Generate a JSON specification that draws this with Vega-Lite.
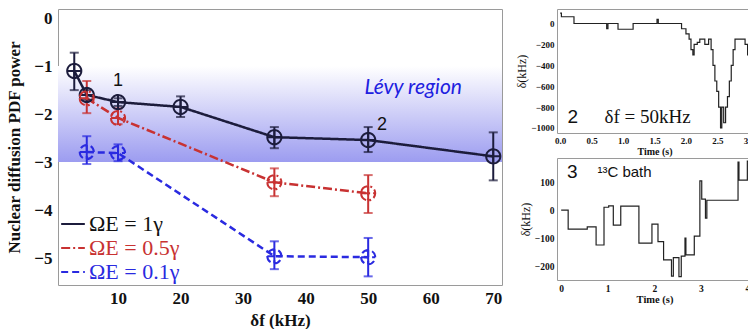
{
  "$schema": "https://vega.github.io/schema/vega-lite/v6.json",
  "padding": {"left": 5, "top": 8, "right": 0, "bottom": 0},
  "background": "white",
  "spacing": 10,
  "config": {
    "view": {"stroke": "#9a9a9a", "strokeWidth": 1},
    "axis": {"grid": false, "domain": false, "ticks": false, "labelOverlap": false, "labelFont": "Liberation Serif", "titleFont": "Liberation Serif", "labelFontWeight": "bold", "titleFontWeight": "bold", "labelColor": "#111", "titleColor": "#111"}
  },
  "datasets": {
    "band": [{"top": -1, "bottom": -3}],
    "pts": [
      {"s": "ΩE = 1γ", "x": 3, "y": -1.10, "lo": -1.50, "hi": -0.72},
      {"s": "ΩE = 1γ", "x": 5, "y": -1.60, "lo": -1.70, "hi": -1.50},
      {"s": "ΩE = 1γ", "x": 10, "y": -1.75, "lo": -1.83, "hi": -1.67},
      {"s": "ΩE = 1γ", "x": 20, "y": -1.85, "lo": -2.06, "hi": -1.63},
      {"s": "ΩE = 1γ", "x": 35, "y": -2.48, "lo": -2.71, "hi": -2.27},
      {"s": "ΩE = 1γ", "x": 50, "y": -2.54, "lo": -2.79, "hi": -2.27},
      {"s": "ΩE = 1γ", "x": 70, "y": -2.88, "lo": -3.38, "hi": -2.38},
      {"s": "ΩE = 0.5γ", "x": 5, "y": -1.67, "lo": -1.98, "hi": -1.31},
      {"s": "ΩE = 0.5γ", "x": 10, "y": -2.08, "lo": -2.21, "hi": -1.88},
      {"s": "ΩE = 0.5γ", "x": 35, "y": -3.42, "lo": -3.71, "hi": -3.13},
      {"s": "ΩE = 0.5γ", "x": 50, "y": -3.65, "lo": -4.06, "hi": -3.27},
      {"s": "ΩE = 0.1γ", "x": 5, "y": -2.79, "lo": -3.04, "hi": -2.46},
      {"s": "ΩE = 0.1γ", "x": 10, "y": -2.81, "lo": -2.98, "hi": -2.63},
      {"s": "ΩE = 0.1γ", "x": 35, "y": -4.96, "lo": -5.23, "hi": -4.65},
      {"s": "ΩE = 0.1γ", "x": 50, "y": -4.98, "lo": -5.38, "hi": -4.58}
    ],
    "nums": [{"x": 10, "y": -1.31, "t": "1"}, {"x": 52.2, "y": -2.23, "t": "2"}],
    "levy": [{"x": 57.2, "y": -1.46, "t": "Lévy region"}],
    "ins2": [
      {"t": 0.00, "v": 100}, {"t": 0.02, "v": 65}, {"t": 0.22, "v": 0}, {"t": 0.74, "v": -50},
      {"t": 0.76, "v": 0}, {"t": 0.92, "v": -55}, {"t": 1.16, "v": 0}, {"t": 1.54, "v": 40},
      {"t": 1.56, "v": 0}, {"t": 1.93, "v": -50}, {"t": 2.00, "v": -100}, {"t": 2.05, "v": -150},
      {"t": 2.08, "v": -250}, {"t": 2.11, "v": -300}, {"t": 2.13, "v": -200}, {"t": 2.18, "v": -180},
      {"t": 2.22, "v": -150}, {"t": 2.30, "v": -200}, {"t": 2.36, "v": -150}, {"t": 2.40, "v": -250},
      {"t": 2.43, "v": -400}, {"t": 2.46, "v": -550}, {"t": 2.49, "v": -650}, {"t": 2.52, "v": -800},
      {"t": 2.55, "v": -1000}, {"t": 2.57, "v": -800}, {"t": 2.60, "v": -950}, {"t": 2.63, "v": -800},
      {"t": 2.66, "v": -700}, {"t": 2.69, "v": -550}, {"t": 2.72, "v": -400}, {"t": 2.75, "v": -250},
      {"t": 2.78, "v": -150}, {"t": 2.94, "v": -200}, {"t": 2.98, "v": -300}, {"t": 3.05, "v": -300}
    ],
    "ins3": [
      {"t": 0.00, "v": 0}, {"t": 0.15, "v": -68}, {"t": 0.56, "v": -60}, {"t": 0.75, "v": -125},
      {"t": 0.92, "v": 10}, {"t": 1.02, "v": 15}, {"t": 1.12, "v": -54}, {"t": 1.28, "v": 14},
      {"t": 1.67, "v": -118}, {"t": 1.95, "v": -50}, {"t": 2.08, "v": -113}, {"t": 2.20, "v": -178},
      {"t": 2.37, "v": -236}, {"t": 2.41, "v": -170}, {"t": 2.53, "v": -238}, {"t": 2.58, "v": -165},
      {"t": 2.66, "v": -100}, {"t": 2.68, "v": -160}, {"t": 2.86, "v": -93}, {"t": 2.98, "v": 104},
      {"t": 3.02, "v": 39}, {"t": 3.10, "v": -29}, {"t": 3.13, "v": 35}, {"t": 3.80, "v": 171},
      {"t": 3.82, "v": 107}, {"t": 4.00, "v": 175}, {"t": 4.10, "v": 175}
    ],
    "lab2": [{"t": 0.2, "v": -895, "a": "2", "b": "δf = 50kHz", "tb": 1.39}],
    "lab3": [{"t": 0.24, "v": 136, "a": "3", "b": "¹³C bath", "tb": 1.36}]
  },
  "hconcat": [
    {
      "width": 444,
      "height": 276,
      "layer": [
        {
          "data": {"name": "band"},
          "mark": {"type": "rect", "fill": {"gradient": "linear", "x1": 0, "y1": 0, "x2": 0, "y2": 1, "stops": [{"offset": 0, "color": "#ffffff"}, {"offset": 1, "color": "#9c9cf0"}]}},
          "encoding": {
            "y": {"field": "top", "type": "quantitative", "title": "Nuclear diffusion PDF power", "scale": {"domain": [-5.56, 0.19], "nice": false, "zero": false}, "axis": {"values": [0, -1, -2, -3, -4, -5], "tickCount": 30, "format": "d", "labelFontSize": 17, "titleFontSize": 17, "labelPadding": 6, "titlePadding": 10}},
            "y2": {"field": "bottom"}
          }
        },
        {
          "mark": {"type": "rule", "strokeDash": [3, 3], "color": "#b4b8e8", "strokeWidth": 1},
          "encoding": {"y": {"datum": -1, "title": "Nuclear diffusion PDF power"}}
        },
        {
          "data": {"name": "pts"},
          "mark": {"type": "line", "strokeWidth": 2.5},
          "encoding": {
            "x": {"field": "x", "type": "quantitative", "title": "δf (kHz)", "scale": {"domain": [0.4, 71.4], "nice": false, "zero": false}, "axis": {"values": [10, 20, 30, 40, 50, 60, 70], "tickCount": 30, "format": "d", "labelFontSize": 17, "titleFontSize": 17, "labelPadding": 5, "titlePadding": 6}},
            "y": {"field": "y", "type": "quantitative", "title": "Nuclear diffusion PDF power"},
            "color": {"field": "s", "type": "nominal", "scale": {"domain": ["ΩE = 1γ", "ΩE = 0.5γ", "ΩE = 0.1γ"], "range": ["#1c1c3c", "#c83232", "#2a2ae0"]},
              "legend": {"orient": "none", "legendX": 2, "legendY": 202, "title": null, "symbolType": "stroke", "symbolSize": 560, "symbolStrokeWidth": 2, "labelFont": "Liberation Serif", "labelFontSize": 22, "rowPadding": 0, "padding": 0, "labelOffset": 3,
                "encode": {"labels": {"update": {"fill": {"signal": "datum.value === 'ΩE = 1γ' ? '#111111' : datum.value === 'ΩE = 0.5γ' ? '#c83232' : '#2a2ae0'"}}}}}},
            "strokeDash": {"field": "s", "type": "nominal", "scale": {"domain": ["ΩE = 1γ", "ΩE = 0.5γ", "ΩE = 0.1γ"], "range": [[1, 0], [9, 3, 2, 3], [7, 4]]},
              "legend": {"orient": "none", "legendX": 2, "legendY": 202, "title": null, "symbolType": "stroke", "symbolSize": 560, "symbolStrokeWidth": 2, "labelFont": "Liberation Serif", "labelFontSize": 22, "rowPadding": 0, "padding": 0, "labelOffset": 3,
                "encode": {"labels": {"update": {"fill": {"signal": "datum.value === 'ΩE = 1γ' ? '#111111' : datum.value === 'ΩE = 0.5γ' ? '#c83232' : '#2a2ae0'"}}}}}}
          }
        },
        {
          "data": {"name": "pts"},
          "mark": {"type": "errorbar", "ticks": {"size": 9}, "thickness": 2},
          "encoding": {
            "x": {"field": "x", "type": "quantitative", "title": "δf (kHz)"},
            "y": {"field": "lo", "type": "quantitative", "title": "Nuclear diffusion PDF power"},
            "y2": {"field": "hi"},
            "color": {"field": "s", "type": "nominal", "legend": null}
          }
        },
        {
          "data": {"name": "pts"},
          "mark": {"type": "point", "shape": "M-1,0A1,1 0 1,0 1,0A1,1 0 1,0 -1,0ZM-1,0L1,0M0,-1L0,1", "filled": false, "strokeWidth": 2, "size": 200, "opacity": 1},
          "encoding": {
            "x": {"field": "x", "type": "quantitative", "title": "δf (kHz)"},
            "y": {"field": "y", "type": "quantitative", "title": "Nuclear diffusion PDF power"},
            "color": {"field": "s", "type": "nominal", "legend": null},
            "strokeDash": {"field": "s", "type": "nominal", "legend": null}
          }
        },
        {
          "data": {"name": "nums"},
          "mark": {"type": "text", "font": "Liberation Sans", "fontSize": 18, "color": "#111", "baseline": "middle", "align": "center"},
          "encoding": {
            "x": {"field": "x", "type": "quantitative", "title": "δf (kHz)"},
            "y": {"field": "y", "type": "quantitative", "title": "Nuclear diffusion PDF power"},
            "text": {"field": "t"}
          }
        },
        {
          "data": {"name": "levy"},
          "mark": {"type": "text", "font": "Lato", "fontStyle": "italic", "fontSize": 21, "color": "#2020e0", "baseline": "middle", "align": "center"},
          "encoding": {
            "x": {"field": "x", "type": "quantitative", "title": "δf (kHz)"},
            "y": {"field": "y", "type": "quantitative", "title": "Nuclear diffusion PDF power"},
            "text": {"field": "t"}
          }
        }
      ]
    },
    {
      "spacing": 0,
      "vconcat": [
        {
          "width": 195,
          "height": 124,
          "layer": [
            {
              "mark": {"type": "rule", "color": "#bbbbbb", "strokeWidth": 1.5},
              "encoding": {"y": {"datum": 0, "title": "δ(kHz)"}}
            },
            {
              "data": {"name": "ins2"},
              "mark": {"type": "line", "interpolate": "step-after", "color": "#222222", "strokeWidth": 1.2, "clip": true},
              "encoding": {
                "x": {"field": "t", "type": "quantitative", "title": "Time (s)", "scale": {"domain": [-0.05, 3.05], "nice": false, "zero": false}, "axis": {"values": [0, 0.5, 1, 1.5, 2, 2.5, 3], "tickCount": 30, "format": ".1f", "labelFontSize": 9, "titleFontSize": 10, "labelPadding": 3, "titlePadding": 1}},
                "y": {"field": "v", "type": "quantitative", "title": "δ(kHz)", "scale": {"domain": [-1048, 139], "nice": false, "zero": false}, "axis": {"values": [0, -200, -400, -600, -800, -1000], "tickCount": 30, "format": "d", "labelFontSize": 9, "titleFontSize": 12, "titleFontWeight": "normal", "labelPadding": 3, "titlePadding": 2}}
              }
            },
            {
              "data": {"name": "lab2"},
              "mark": {"type": "text", "font": "Liberation Sans", "fontSize": 19, "color": "#111", "baseline": "middle", "align": "center"},
              "encoding": {"x": {"field": "t", "type": "quantitative", "title": "Time (s)"}, "y": {"field": "v", "type": "quantitative", "title": "δ(kHz)"}, "text": {"field": "a"}}
            },
            {
              "data": {"name": "lab2"},
              "mark": {"type": "text", "font": "Liberation Serif", "fontSize": 19, "color": "#111", "baseline": "middle", "align": "center"},
              "encoding": {"x": {"field": "tb", "type": "quantitative", "title": "Time (s)"}, "y": {"field": "v", "type": "quantitative", "title": "δ(kHz)"}, "text": {"field": "b"}}
            }
          ]
        },
        {
          "width": 195,
          "height": 122,
          "layer": [
            {
              "mark": {"type": "rule", "color": "#bbbbbb", "strokeWidth": 1.5},
              "encoding": {"y": {"datum": 0, "title": "δ(kHz)"}}
            },
            {
              "data": {"name": "ins3"},
              "mark": {"type": "line", "interpolate": "step-after", "color": "#222222", "strokeWidth": 1.2, "clip": true},
              "encoding": {
                "x": {"field": "t", "type": "quantitative", "title": "Time (s)", "scale": {"domain": [-0.09, 4.1], "nice": false, "zero": false}, "axis": {"values": [0, 1, 2, 3, 4], "tickCount": 30, "format": "d", "labelFontSize": 9.5, "titleFontSize": 10.5, "labelPadding": 3, "titlePadding": 2}},
                "y": {"field": "v", "type": "quantitative", "title": "δ(kHz)", "scale": {"domain": [-250, 186], "nice": false, "zero": false}, "axis": {"values": [100, 0, -100, -200], "tickCount": 30, "format": "d", "labelFontSize": 9.5, "titleFontSize": 12, "titleFontWeight": "normal", "labelPadding": 3, "titlePadding": 2}}
              }
            },
            {
              "data": {"name": "lab3"},
              "mark": {"type": "text", "font": "Liberation Sans", "fontSize": 19, "color": "#111", "baseline": "middle", "align": "center"},
              "encoding": {"x": {"field": "t", "type": "quantitative", "title": "Time (s)"}, "y": {"field": "v", "type": "quantitative", "title": "δ(kHz)"}, "text": {"field": "a"}}
            },
            {
              "data": {"name": "lab3"},
              "mark": {"type": "text", "font": "Liberation Sans", "fontSize": 15, "color": "#111", "baseline": "middle", "align": "center"},
              "encoding": {"x": {"field": "tb", "type": "quantitative", "title": "Time (s)"}, "y": {"field": "v", "type": "quantitative", "title": "δ(kHz)"}, "text": {"field": "b"}}
            }
          ]
        }
      ]
    }
  ]
}
